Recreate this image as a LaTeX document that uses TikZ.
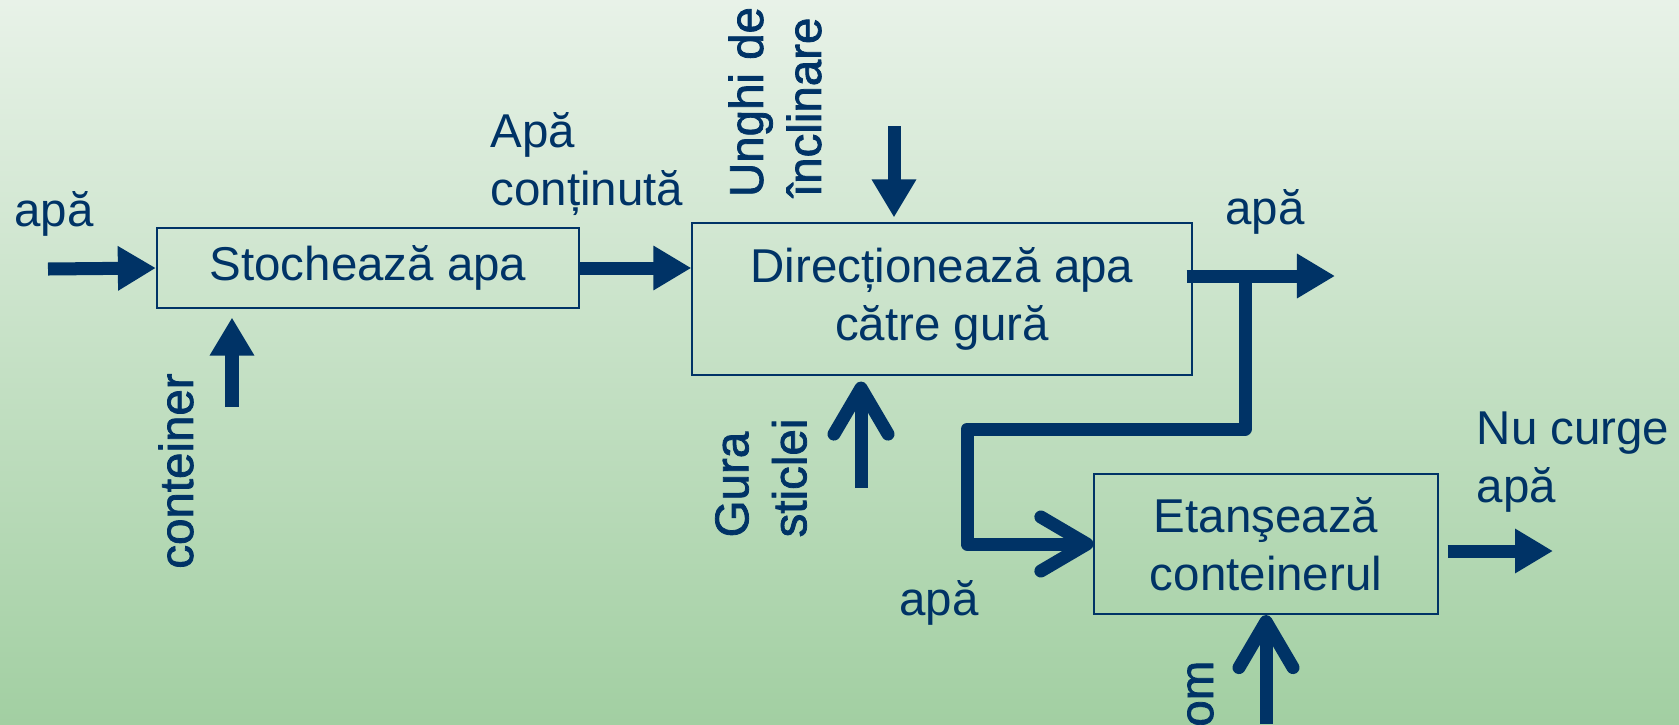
\documentclass[tikz,border=0pt]{standalone}
\usepackage{fontspec}
\setmainfont{Liberation Sans}
\newfontfamily\heavyfont[FakeBold=1.6]{Liberation Sans}
\usetikzlibrary{arrows.meta,positioning}
\definecolor{navy}{HTML}{003366}
\definecolor{bgtop}{HTML}{E8F2E8}
\definecolor{bgbot}{HTML}{A2CFA2}

\begin{document}
\begin{tikzpicture}[x=0.01cm, y=-0.01cm,
    fn/.style={draw=navy, line width=0.2mm, text=navy, align=center,
               font=\fontsize{13.5}{16.5}\selectfont, inner sep=0pt},
    lbl/.style={text=navy, align=left, font=\fontsize{13.5}{16.5}\selectfont,
                inner sep=0pt},
    vlbl/.style={lbl, rotate=90, font=\heavyfont\fontsize{13.5}{16.5}\selectfont},
    fl/.style={-{Triangle[length=3.8mm,width=4.2mm]}, line width=1.3mm, navy},
    ml/.style={-{Straight Barb[length=4.6mm,width=5.4mm,round]},
               line width=1.3mm, navy, line join=round},
  ]
    \shade[top color=bgtop, bottom color=bgbot] (0,0) rectangle (1679,724);
    \useasboundingbox (0,0) rectangle (1679,724);
    % function blocks
    \node[fn, minimum width=4.22cm, minimum height=0.79cm] (store) at (368,268)
       {Stochează apa};
    \node[fn, minimum width=4.99cm, minimum height=1.51cm] (direct) at (942,299)
       {Direcționează apa\\către gură};
    \node[fn, minimum width=3.43cm, minimum height=1.40cm] (seal) at (1266,544)
       {Etanşează\\conteinerul};
    % flow labels
    \node[lbl] (lwater) at (54,214) {apă};
    \node[vlbl] (lcont) at (176,471) {conteiner};
    \node[lbl, anchor=west] (lheld) at (490,164) {Apă\\conținută};
    \node[vlbl] (langle) at (775,102) {Unghi de\\înclinare};
    \node[vlbl] (lmouth) at (761,478) {Gura\\sticlei};
    \node[lbl] (lout) at (1265,212) {apă};
    \node[lbl] (lback) at (939,603) {apă};
    \node[lbl, anchor=west] (lnoflow) at (1476,462) {Nu curge\\apă};
    \node[vlbl, anchor=base east] (lman) at (1213,660) {om};
    % free ends of the flows
    \coordinate (inW) at (48,269);
    \coordinate (inC) at (232,407);
    \coordinate (inU) at (894,126);
    \coordinate (inG) at (861,488);
    \coordinate (outA) at (1335,276);
    \coordinate (split) at (1245,276);
    \coordinate (outN) at (1553,551);
    \coordinate (inO) at (1266,724);
    % flows
    \draw[fl] (inW) -- (store.west);
    \draw[fl, shorten >=0.9mm] (inC) -- (inC |- store.south);
    \draw[fl] (store.east) -- (store.east -| direct.west);
    \draw[fl, shorten >=0.5mm] (inU) -- (inU |- direct.north);
    \draw[ml, shorten >=0.6mm] (inG) -- (inG |- direct.south);
    \draw[fl, shorten <=-0.6mm] (direct.east |- outA) -- (outA);
    \draw[ml] (split) -- ++(0,153) -- (967,429) |- (seal.west);
    \draw[fl, shorten <=0.9mm] (seal.east |- outN) -- (outN);
    \draw[ml] (inO) -- (seal.south);
\end{tikzpicture}
\end{document}
